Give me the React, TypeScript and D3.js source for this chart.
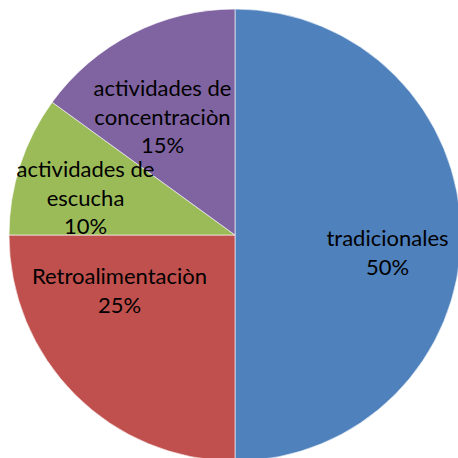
import React from "react";
import * as d3 from "d3";

const categories = ["tradicionales", "Retroalimentaciòn", "actividades de escucha", "actividades de concentraciòn"];
const values = [50, 25, 10, 15];
const percentLabels = ["50%", "25%", "10%", "15%"];
const labelLines = [["tradicionales"], ["Retroalimentaciòn"], ["actividades de", "escucha"], ["actividades de", "concentraciòn"]];
const colors = ["#4F81BD", "#C0504D", "#9BBB59", "#8064A2"];
// label anchor (center x, first baseline) relative to pie center
const labelOffsets: [number, number][] = [[152.5, 11], [-115.5, 49], [-149.5, -58], [-72.5, -139]];

const W = 458, H = 458;
const cx = 235, cy = 235, R = 226;
const lineH = 28.7;

export default function App() {
  const pie = d3.pie<number>().sort(null).startAngle(0).endAngle(2 * Math.PI);
  const arcs = pie(values);
  const arc = d3.arc<d3.PieArcDatum<number>>().innerRadius(0).outerRadius(R);
  return (
    <svg width={W} height={H} style={{ position: "absolute", left: 0, top: 0, background: "#fff" }}>
      <g transform={`translate(${cx},${cy})`}>
        {arcs.map((a, i) => (
          <path key={categories[i]} d={arc(a) || ""} fill={colors[i]} stroke="#ffffff" strokeWidth={0.6} />
        ))}
        {arcs.map((a, i) => {
          const [dx, dy] = labelOffsets[i];
          const lines = [...labelLines[i], percentLabels[i]];
          return (
            <text key={"t" + i} x={dx} y={dy} textAnchor="middle" fontFamily="Lato, 'Open Sans', sans-serif" fontSize={22} fill="#000">
              {lines.map((l, j) => (
                <tspan key={j} x={dx} y={dy + j * lineH}>{l}</tspan>
              ))}
            </text>
          );
        })}
      </g>
    </svg>
  );
}
